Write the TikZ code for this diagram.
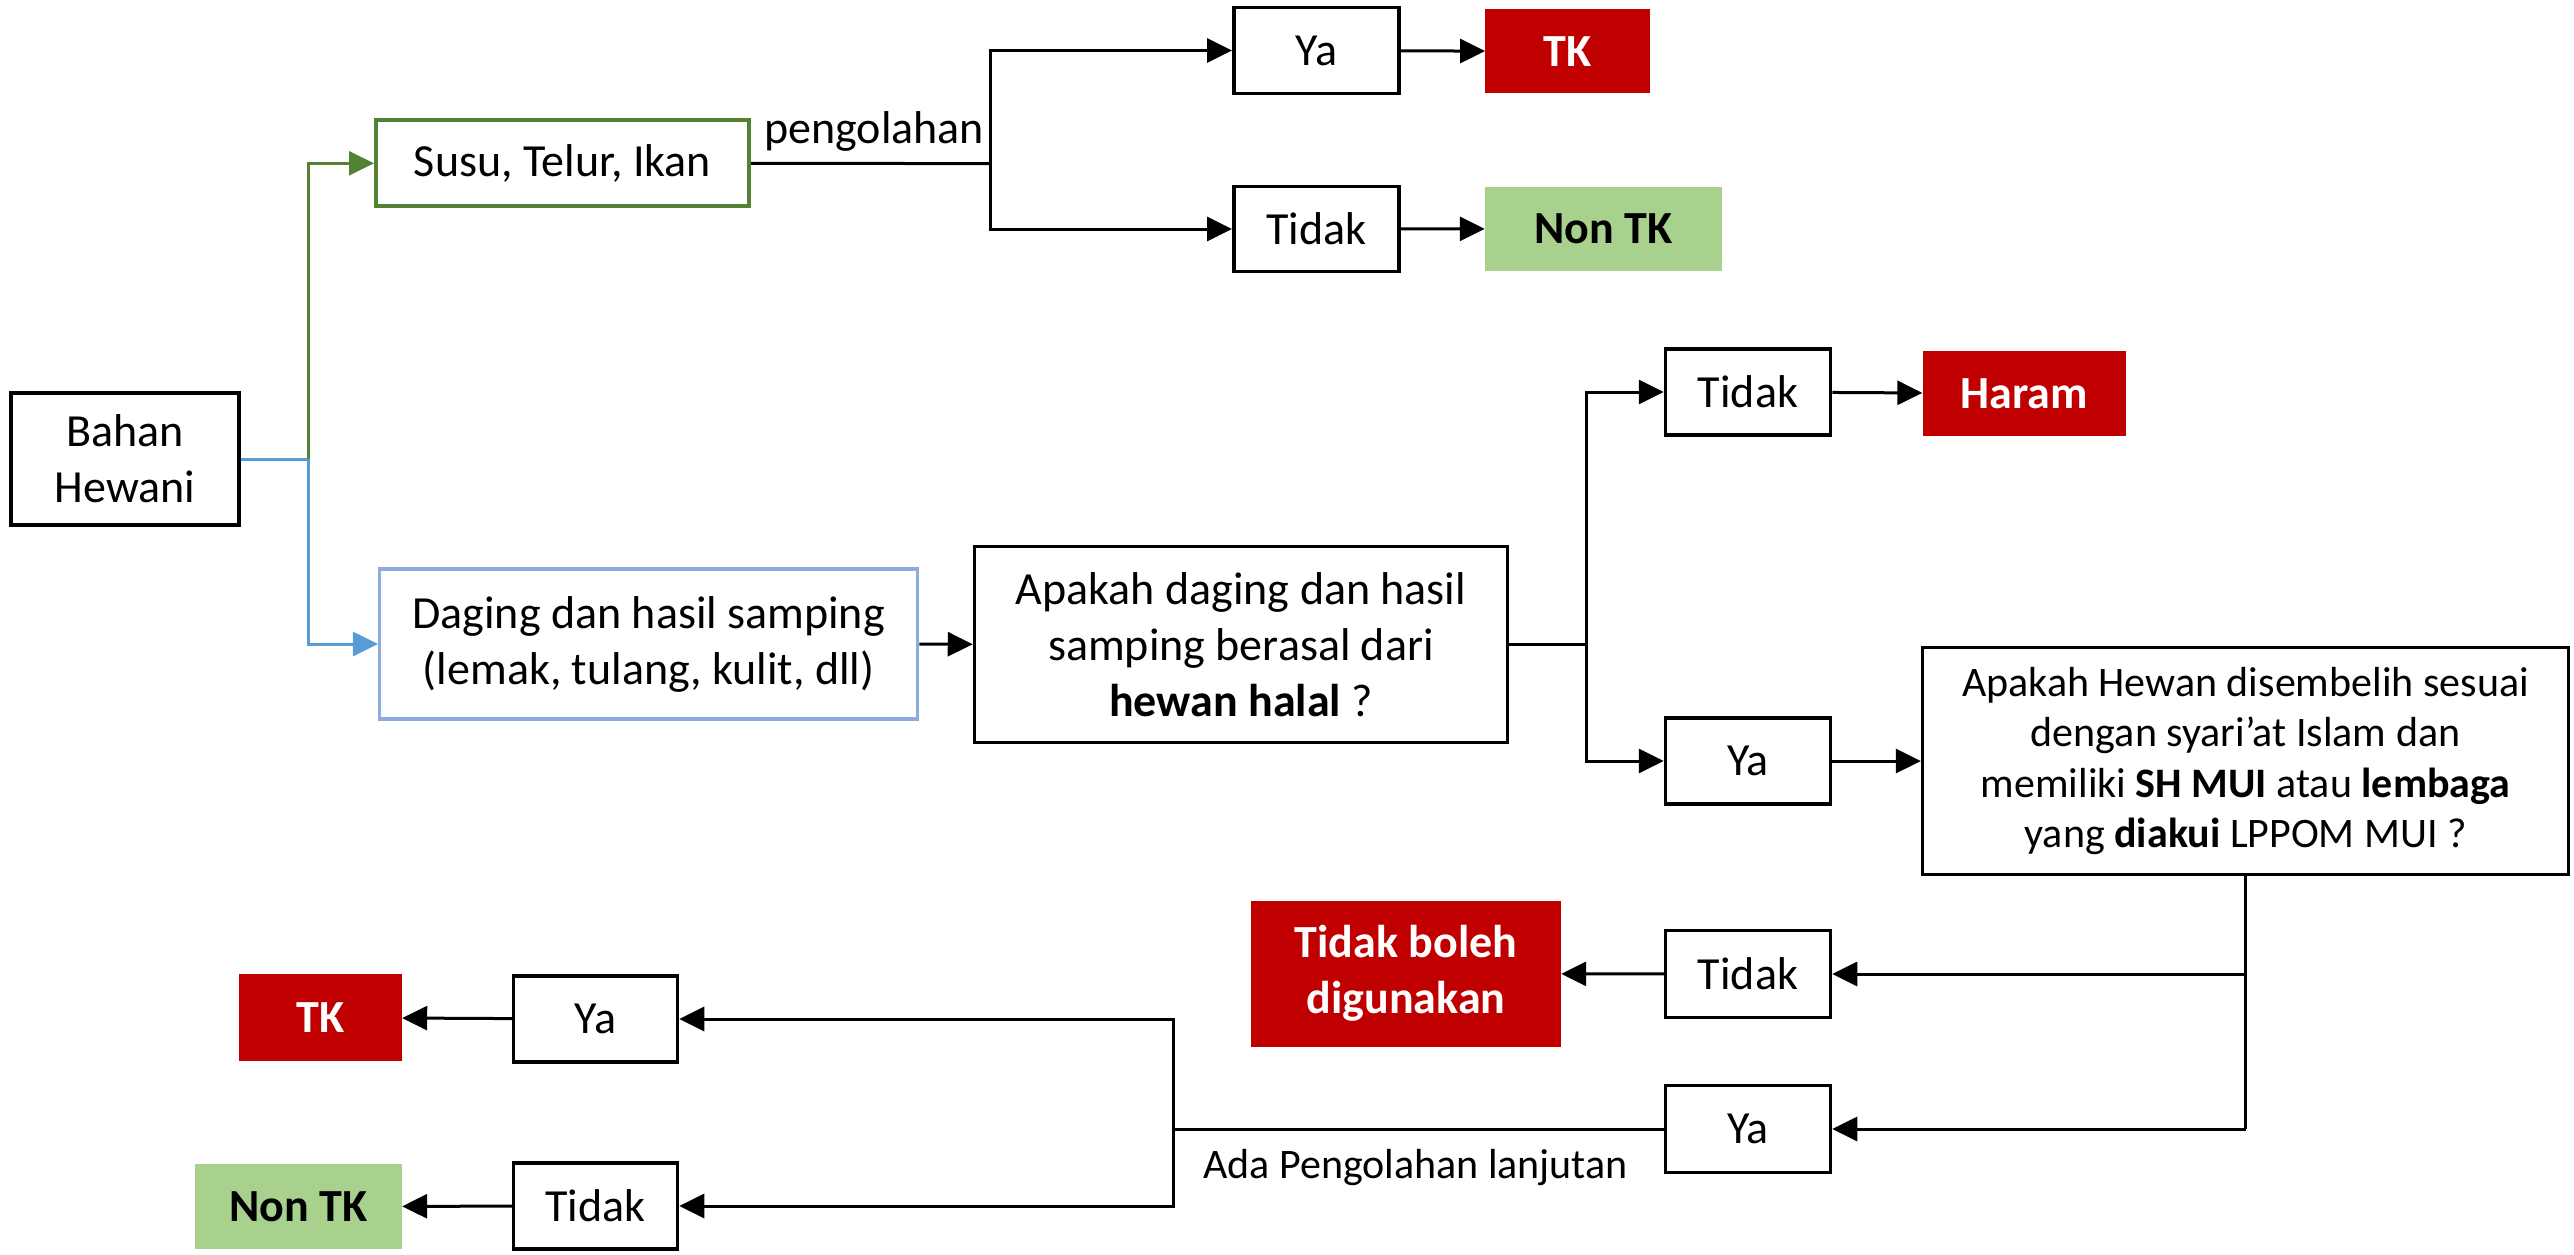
\documentclass[tikz,border=0pt]{standalone}
\usepackage{fontspec}
\setmainfont{Carlito}
\usetikzlibrary{arrows.meta}
\definecolor{redbox}{HTML}{C00000}
\definecolor{greenbox}{HTML}{A9D18E}
\definecolor{greenline}{HTML}{548235}
\definecolor{blueborder}{HTML}{8FAADC}
\definecolor{blueline}{HTML}{5B9BD5}
\tikzset{
  wbox/.style={draw=black, line width=3.5pt, fill=white, align=center, inner sep=0pt,
    font=\fontsize{46}{56}\selectfont},
  redb/.style={fill=redbox, text=white, align=center, inner sep=0pt,
    font=\fontsize{46}{56}\selectfont\bfseries},
  greenb/.style={fill=greenbox, text=black, align=center, inner sep=0pt,
    font=\fontsize{46}{56}\selectfont\bfseries},
  conn/.style={line width=3pt, draw=black},
  arr/.style={conn, -{Triangle[length=25pt,width=24pt]}},
  lbl/.style={inner sep=0pt, font=\fontsize{46}{56}\selectfont},
}
\begin{document}
\begin{tikzpicture}[x=1pt,y=-1pt]
\useasboundingbox (0,0) rectangle (2574,1254);
% nodes
\node[wbox, minimum width=228pt, minimum height=132pt] (bahan) at (125,459) {Bahan\\Hewani};
\node[wbox, draw=greenline, line width=4pt, minimum width=373pt, minimum height=86pt] (susu) at (562.5,163.3) {Susu, Telur, Ikan};
\node[wbox, draw=blueborder, line width=3.5pt, minimum width=538pt, minimum height=150pt] (daging) at (648.7,644) {Daging dan hasil samping\\(lemak, tulang, kulit, dll)};
\node[wbox, minimum width=533pt, minimum height=196pt] (apakah) at (1241,644.3) {Apakah daging dan hasil\\samping berasal dari\\\textbf{hewan halal} ?};
\node[wbox, minimum width=165pt, minimum height=86pt] (ya1) at (1316.3,50.5) {Ya};
\node[redb, minimum width=165pt, minimum height=84pt] (tk1) at (1567.8,51.4) {TK};
\node[wbox, minimum width=165pt, minimum height=85pt] (tidak1) at (1316.3,229) {Tidak};
\node[greenb, minimum width=237pt, minimum height=84pt] (nontk1) at (1603.5,228.8) {Non TK};
\node[wbox, minimum width=165pt, minimum height=86pt] (tidak2) at (1748,392) {Tidak};
\node[redb, minimum width=203pt, minimum height=85pt] (haram) at (2024,393.5) {Haram};
\node[wbox, minimum width=165pt, minimum height=86pt] (ya2) at (1748,761) {Ya};
\node[wbox, minimum width=646pt, minimum height=227pt, font=\fontsize{42}{50.5}\selectfont] (hewan) at (2245.6,761.2) {Apakah Hewan disembelih sesuai\\dengan syari’at Islam dan\\memiliki \textbf{SH MUI} atau \textbf{lembaga}\\yang \textbf{diakui} LPPOM MUI ?};
\node[wbox, minimum width=165pt, minimum height=87pt] (tidak3) at (1748,974) {Tidak};
\node[wbox, minimum width=165pt, minimum height=87pt] (ya3) at (1748,1129) {Ya};
\node[redb, minimum width=310pt, minimum height=146pt] (tbd) at (1406,973.7) {Tidak boleh\\digunakan};
\node[wbox, minimum width=164pt, minimum height=86pt] (ya4) at (595.5,1019) {Ya};
\node[redb, minimum width=163pt, minimum height=87pt] (tk2) at (320.5,1017.6) {TK};
\node[wbox, minimum width=164pt, minimum height=86pt] (tidak4) at (595.5,1206) {Tidak};
\node[greenb, minimum width=207pt, minimum height=85pt] (nontk2) at (298.5,1206.5) {Non TK};
% junction coordinates
\coordinate (j1) at (308,459);
\coordinate (j2) at (990.7,163.6);
\coordinate (j3) at (1586.5,644.3);
\coordinate (j4) at (2245.6,1129);
\coordinate (j5) at (1173.5,1129);
% connectors
\draw[conn, draw=blueline] (bahan.east) -- (j1);
\draw[arr, draw=greenline] (j1) |- (susu.west);
\draw[arr, draw=blueline] (j1) |- (daging.west);
\draw[conn] (susu.east) -- (j2);
\draw[arr] (j2) |- (ya1.west);
\draw[arr] (j2) |- (tidak1.west);
\draw[arr] (ya1) -- (tk1);
\draw[arr] (tidak1) -- (nontk1);
\draw[arr] (daging.east) -- (apakah.west);
\draw[conn] (apakah.east) -- (j3);
\draw[arr] (j3) |- (tidak2.west);
\draw[arr] (j3) |- (ya2.west);
\draw[arr] (tidak2) -- (haram);
\draw[arr] (ya2) -- (hewan.west |- ya2);
\draw[conn] (hewan.south) -- (j4);
\draw[arr] (hewan.south |- tidak3) -- (tidak3.east);
\draw[arr] (j4) -- (ya3.east);
\draw[arr] (tidak3) -- (tbd);
\draw[conn] (ya3.west) -- (j5);
\draw[arr] (j5) |- (ya4.east);
\draw[arr] (j5) |- (tidak4.east);
\draw[arr] (ya4) -- (tk2);
\draw[arr] (tidak4) -- (nontk2);
% labels
\node[lbl, anchor=base west] (lpeng) at (764,143) {pengolahan};
\node[lbl, anchor=base west, font=\fontsize{42}{50}\selectfont] (lada) at (1203,1178) {Ada Pengolahan lanjutan};
\end{tikzpicture}
\end{document}
